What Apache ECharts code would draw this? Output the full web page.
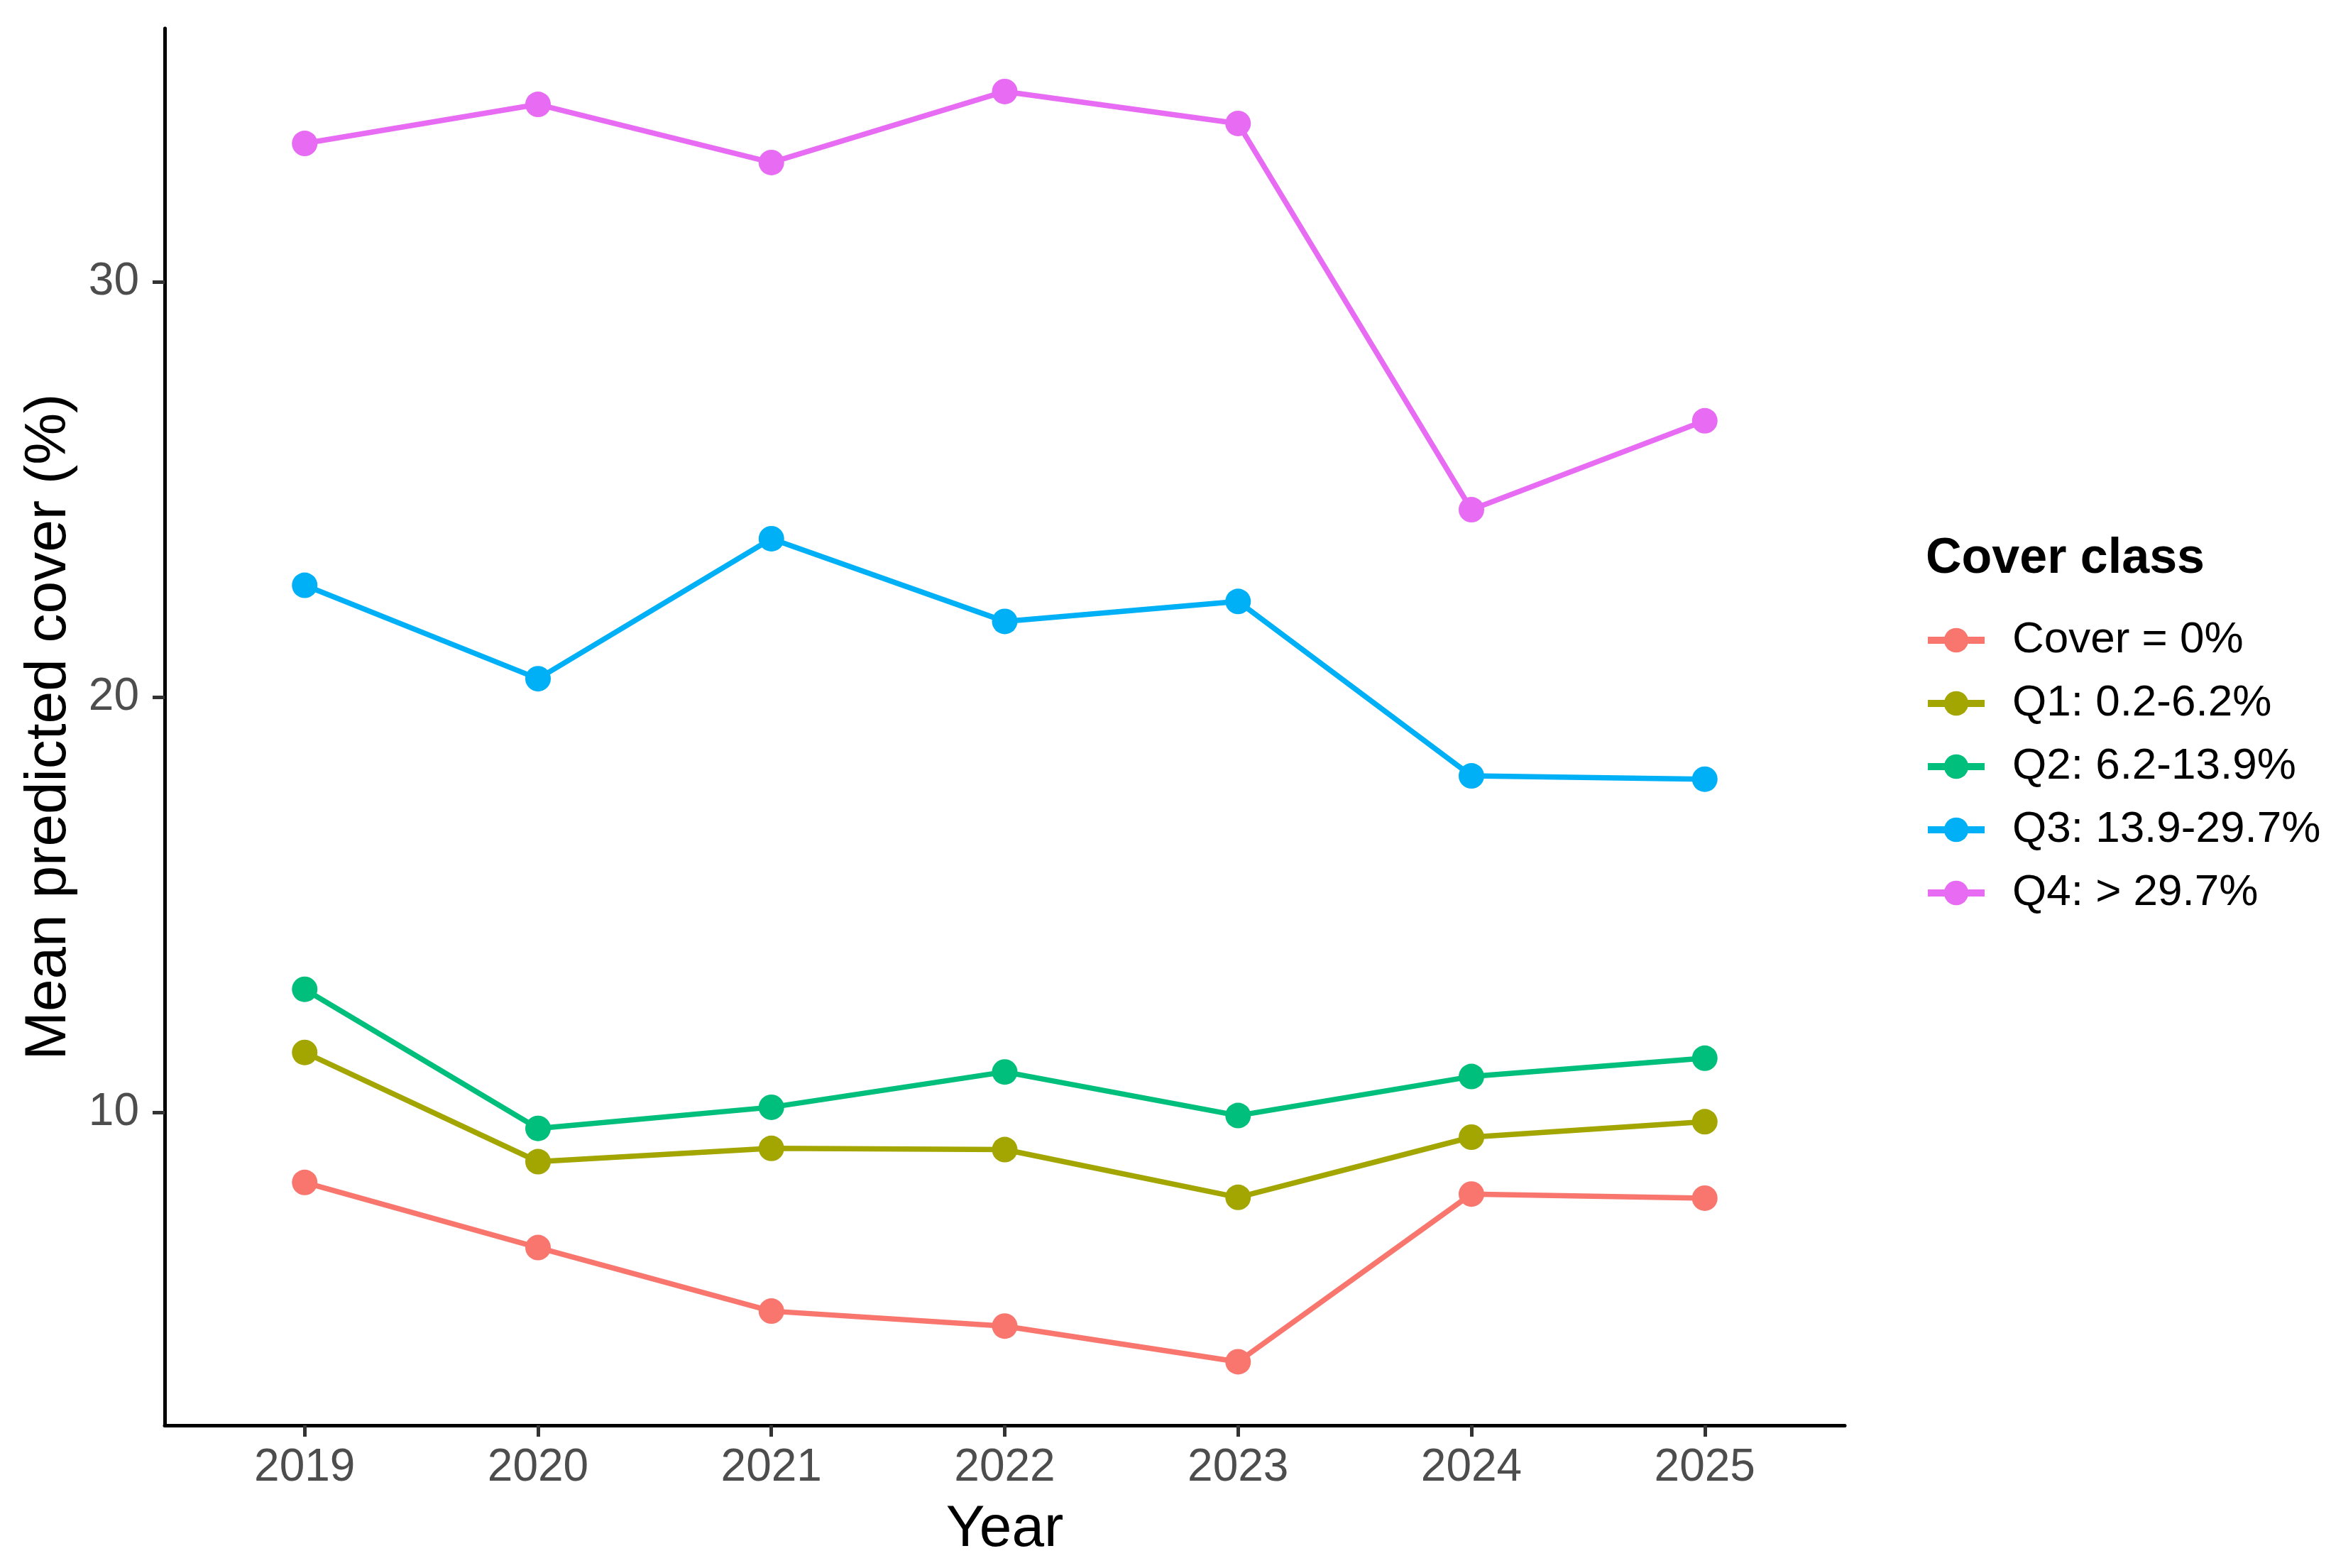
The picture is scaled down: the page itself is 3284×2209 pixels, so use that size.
<!DOCTYPE html>
<html>
<head>
<meta charset="utf-8">
<script src="https://cdn.jsdelivr.net/npm/echarts@6/dist/echarts.min.js"></script>
<style>
  html, body { margin: 0; padding: 0; background: #fff; }
  #chart { width: 3284px; height: 2209px; }
</style>
</head>
<body>
<div id="chart"></div>
<script>
const years = [2019, 2020, 2021, 2022, 2023, 2024, 2025]
const yTicks = [10, 20, 30]

const classNames = ['Cover = 0%', 'Q1: 0.2-6.2%', 'Q2: 6.2-13.9%', 'Q3: 13.9-29.7%', 'Q4: > 29.7%']
const classColors = ['#F8766D', '#A3A500', '#00BF7D', '#00B0F6', '#E76BF3']

const cover0 = [8.31, 6.74, 5.21, 4.85, 3.99, 8.03, 7.93]
const q1 = [11.44, 8.81, 9.13, 9.10, 7.95, 9.40, 9.77]
const q2 = [12.96, 9.61, 10.12, 10.97, 9.92, 10.86, 11.30]
const q3 = [22.69, 20.44, 23.81, 21.82, 22.30, 18.10, 18.02]
const q4 = [33.33, 34.27, 32.87, 34.58, 33.81, 24.51, 26.65]

const seriesValues = [cover0, q1, q2, q3, q4]

const font = 'Liberation Sans, Arial, sans-serif'

const chart = echarts.init(document.getElementById('chart'))

const series = seriesValues.map((vals, i) => ({
    name: classNames[i],
    type: 'line',
    data: vals.map((v, j) => [years[j], v]),
    symbol: 'circle',
    symbolSize: 36,
    itemStyle: { color: classColors[i] },
    lineStyle: { color: classColors[i], width: 7.5 },
    emphasis: { disabled: true },
    animation: false
}))

const option = {
    backgroundColor: '#fff',
    animation: false,
    title: {
        text: 'Cover class',
        left: 2708,
        top: 748,
        textStyle: { fontFamily: font, fontSize: 70, fontWeight: 'bold', color: '#000' }
    },
    legend: {
        orient: 'vertical',
        left: 2706,
        top: 866,
        itemWidth: 80,
        itemHeight: 43,
        itemGap: 27,
        data: classNames,
        lineStyle: { width: 10 },
        itemStyle: { borderWidth: 0 },
        textStyle: { fontFamily: font, fontSize: 62, color: '#000', lineHeight: 62, padding: [0, 0, 0, 34] }
    },
    grid: { left: 232, right: 685, top: 40, bottom: 201 },
    xAxis: {
        type: 'value',
        min: 2018.4,
        max: 2025.6,
        name: 'Year',
        nameLocation: 'middle',
        nameGap: 106,
        nameTextStyle: { fontFamily: font, fontSize: 82, color: '#000' },
        axisLine: { show: true, onZero: false, lineStyle: { color: '#000', width: 5 } },
        axisTick: { show: true, length: 16, customValues: years, lineStyle: { color: '#333', width: 5 } },
        axisLabel: {
            customValues: years, margin: 28, fontFamily: font, fontSize: 64, color: '#4D4D4D',
            formatter: v => String(v)
        },
        splitLine: { show: false }
    },
    yAxis: {
        type: 'value',
        min: 2.46,
        max: 36.1,
        name: 'Mean predicted cover (%)',
        nameLocation: 'middle',
        nameGap: 122,
        nameTextStyle: { fontFamily: font, fontSize: 82, color: '#000' },
        axisLine: { show: true, onZero: false, lineStyle: { color: '#000', width: 5 } },
        axisTick: { show: true, length: 17, customValues: yTicks, lineStyle: { color: '#333', width: 5 } },
        axisLabel: { customValues: yTicks, margin: 36, fontFamily: font, fontSize: 64, color: '#4D4D4D' },
        splitLine: { show: false }
    },
    series: series
}

chart.setOption(option)
</script>
</body>
</html>
